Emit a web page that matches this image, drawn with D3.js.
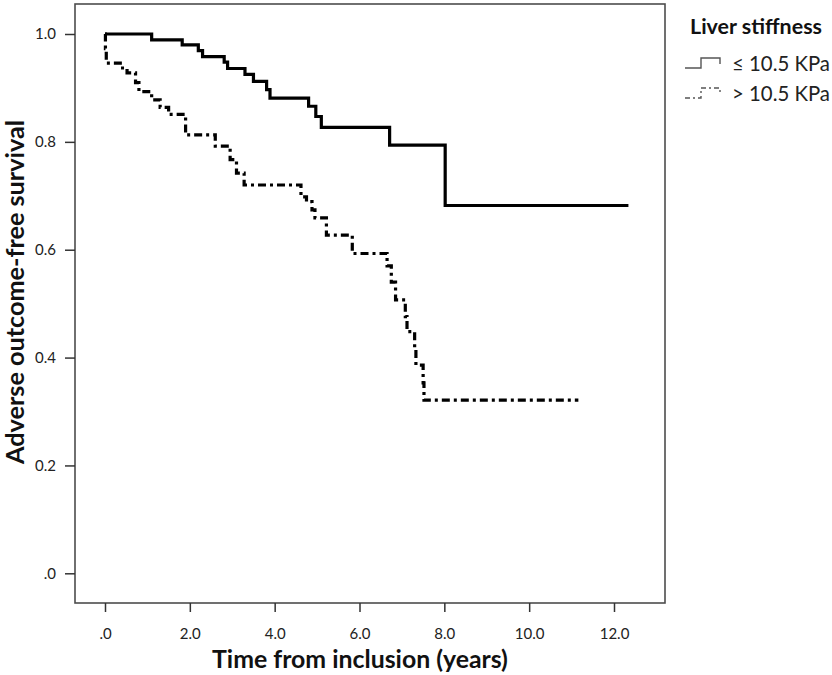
<!DOCTYPE html>
<html>
<head>
<meta charset="utf-8">
<script src="https://cdn.jsdelivr.net/npm/d3@7"></script>
<style>
  html, body { margin: 0; padding: 0; background: #fff; }
  svg { display: block; font-family: Lato, "Open Sans", sans-serif; }
</style>
</head>
<body>
<svg id="chart" width="832" height="675"></svg>
<script>
// Kaplan-Meier estimates: event times (years) and survival after each event
const lowTimes = [0, 1.10, 1.82, 2.20, 2.30, 2.81, 2.89, 3.30, 3.50, 3.81, 3.89, 4.80, 4.97, 5.10, 6.71, 8.02];
const lowSurv  = [1.0, 0.989, 0.980, 0.969, 0.958, 0.948, 0.936, 0.925, 0.912, 0.897, 0.881, 0.866, 0.847, 0.827, 0.794, 0.682];
const lowLastFollowUp = 12.34;

const highTimes = [0, 0.01, 0.03, 0.36, 0.52, 0.72, 0.80, 1.10, 1.30, 1.50, 1.90, 2.60, 2.95, 3.10, 3.28,
                   4.62, 4.75, 4.88, 4.95, 5.22, 5.83, 6.65, 6.75, 6.85, 7.08, 7.12, 7.30, 7.33, 7.50, 7.52];
const highSurv  = [1.0, 0.973, 0.946, 0.937, 0.928, 0.910, 0.893, 0.878, 0.864, 0.851, 0.813, 0.792, 0.767, 0.742, 0.720,
                   0.698, 0.689, 0.674, 0.659, 0.627, 0.593, 0.570, 0.540, 0.507, 0.476, 0.448, 0.417, 0.386, 0.353, 0.321];
const highLastFollowUp = 11.16;

const xTicks = [0, 2, 4, 6, 8, 10, 12];
const xTickLabels = [".0", "2.0", "4.0", "6.0", "8.0", "10.0", "12.0"];
const yTicks = [0, 0.2, 0.4, 0.6, 0.8, 1.0];
const yTickLabels = [".0", "0.2", "0.4", "0.6", "0.8", "1.0"];

const groupLabels = ["\u2264 10.5 KPa", "> 10.5 KPa"];
const legendTitle = "Liver stiffness";
const xTitle = "Time from inclusion (years)";
const yTitle = "Adverse outcome-free survival";

const svg = d3.select("#chart");
const frame = { left: 75, right: 665, top: 4, bottom: 603 };

const x = d3.scaleLinear().domain([0, 12]).range([105, 614]);
const y = d3.scaleLinear().domain([0, 1]).range([573.3, 34]);

// shrink/grow a text node's font size so it spans the requested width
function fitWidth(sel, width) {
  const node = sel.node();
  const fs = parseFloat(sel.attr("font-size"));
  const w = node.getComputedTextLength();
  if (w > 0) sel.attr("font-size", (fs * width / w).toFixed(2));
  return sel;
}

// plot frame
svg.append("rect")
  .attr("x", frame.left).attr("y", frame.top)
  .attr("width", frame.right - frame.left).attr("height", frame.bottom - frame.top)
  .attr("fill", "none").attr("stroke", "#4d4d4d").attr("stroke-width", 1.6);

// x axis
const xAxis = d3.axisBottom(x).tickValues(xTicks)
  .tickFormat((d, i) => xTickLabels[i]).tickSize(9).tickPadding(16);
const gx = svg.append("g").attr("transform", `translate(0,${frame.bottom})`).call(xAxis);
gx.select(".domain").remove();
gx.selectAll(".tick line").attr("stroke", "#333").attr("stroke-width", 1.5);
gx.selectAll(".tick text").attr("font-size", 15).attr("fill", "#222")
  .attr("font-family", "Lato, sans-serif");

// y axis
const yAxis = d3.axisLeft(y).tickValues(yTicks)
  .tickFormat((d, i) => yTickLabels[i]).tickSize(10).tickPadding(9);
const gy = svg.append("g").attr("transform", `translate(${frame.left},0)`).call(yAxis);
gy.select(".domain").remove();
gy.selectAll(".tick line").attr("stroke", "#333").attr("stroke-width", 1.5);
gy.selectAll(".tick text").attr("font-size", 15).attr("fill", "#222")
  .attr("font-family", "Lato, sans-serif");

// axis titles
const xt = svg.append("text").text(xTitle)
  .attr("x", 360).attr("y", 668).attr("text-anchor", "middle")
  .attr("font-weight", "bold").attr("font-size", 21).attr("fill", "#111");
fitWidth(xt, 296);

const yt = svg.append("text").text(yTitle)
  .attr("transform", "translate(24,292) rotate(-90)").attr("text-anchor", "middle")
  .attr("font-weight", "bold").attr("font-size", 21).attr("fill", "#111");
fitWidth(yt, 344);

// survival curves
function stepPoints(times, surv, last) {
  const pts = times.map((t, i) => [t, surv[i]]);
  pts.push([last, surv[surv.length - 1]]);
  return pts;
}
const line = d3.line().x(d => x(d[0])).y(d => y(d[1])).curve(d3.curveStepAfter);

svg.append("path")
  .datum(stepPoints(lowTimes, lowSurv, lowLastFollowUp))
  .attr("d", line).attr("fill", "none").attr("stroke", "#000")
  .attr("stroke-width", 3.2).attr("stroke-linejoin", "miter");

svg.append("path")
  .datum(stepPoints(highTimes, highSurv, highLastFollowUp))
  .attr("d", line).attr("fill", "none").attr("stroke", "#000")
  .attr("stroke-width", 3.2).attr("stroke-dasharray", "8,4,3,4");

// legend
const lg = svg.append("g");
const lt = lg.append("text").text(legendTitle)
  .attr("x", 690).attr("y", 34).attr("font-weight", "bold")
  .attr("font-size", 17).attr("fill", "#111");
fitWidth(lt, 132);

const glyph = "M0,10 H16 V0 H35 V6";
const rows = [{ y: 58, dash: null }, { y: 88, dash: "5,3,2,3" }];
rows.forEach((r, i) => {
  lg.append("path")
    .attr("d", glyph).attr("transform", `translate(685,${r.y})`)
    .attr("fill", "none").attr("stroke", "#555").attr("stroke-width", 1.4)
    .attr("stroke-dasharray", r.dash);
  const t = lg.append("text").text(groupLabels[i])
    .attr("x", 732).attr("y", r.y + 13).attr("font-size", 17).attr("fill", "#222");
  fitWidth(t, 98);
});
</script>
</body>
</html>
